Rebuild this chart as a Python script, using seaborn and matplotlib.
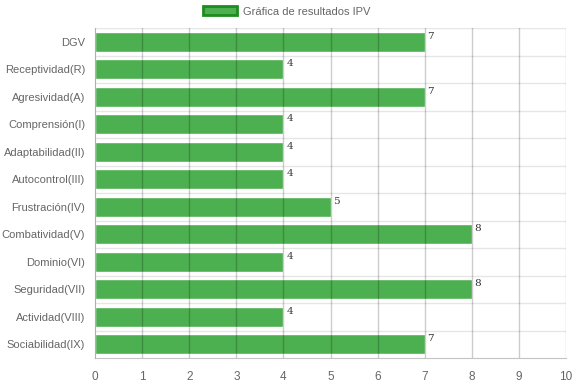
import matplotlib
matplotlib.use("Agg")
import matplotlib.pyplot as plt
import matplotlib.patches as mpatches
import seaborn as sns
import pandas as pd

categories = ["DGV", "Receptividad(R)", "Agresividad(A)", "Comprensión(I)",
              "Adaptabilidad(II)", "Autocontrol(III)", "Frustración(IV)",
              "Combatividad(V)", "Dominio(VI)", "Seguridad(VII)",
              "Actividad(VIII)", "Sociabilidad(IX)"]
values = [7, 4, 7, 4, 4, 4, 5, 8, 4, 8, 4, 7]
series_name = "Gráfica de resultados IPV"
x_ticks = list(range(0, 11))

sns.set_style("white")
plt.rcParams['font.family'] = ['Liberation Sans', 'DejaVu Sans']

df = pd.DataFrame({"cat": categories, "val": values})

fig = plt.figure(figsize=(5.74, 3.83), dpi=100)
ax = fig.add_axes([95/574, 25/383, (566-95)/574, (358-28)/383])

bar_color = "#4CAF50"
sns.barplot(data=df, y="cat", x="val", orient="h", color=bar_color,
            width=0.72, ax=ax, saturation=1, zorder=3)

ax.set_xlim(0, 10)
ax.set_ylim(len(categories) - 0.5, -0.5)
ax.set_xlabel("")
ax.set_ylabel("")

# vertical gridlines (drawn over bars, translucent)
for xv in x_ticks[1:]:
    ax.axvline(xv, color="black", alpha=0.2, lw=1, zorder=4)
# horizontal gridlines at category boundaries
for i in range(len(categories)):
    ax.axhline(i - 0.5, color="#e6e6e6", lw=1, zorder=1)

for s in ["top", "right"]:
    ax.spines[s].set_visible(False)
ax.spines["left"].set_color("#b0b0b0")
ax.spines["bottom"].set_color("#c4c4c4")
ax.spines["left"].set_zorder(5)

ax.set_xticks(x_ticks)
ax.set_xticklabels([str(t) for t in x_ticks])
ax.tick_params(axis="x", length=8, color="#c4c4c4", labelsize=8.5,
               labelcolor="#666666", pad=1)
ax.set_yticks(range(len(categories)), minor=False)
ax.tick_params(axis="y", which="major", length=0, labelsize=8,
               labelcolor="#666666", pad=7)
ax.set_yticks([i + 0.5 for i in range(len(categories))], minor=True)
ax.tick_params(axis="y", which="minor", length=7, color="#e6e6e6")

# value labels
for i, v in enumerate(values):
    ax.text(v + 0.06, i - 0.37, str(v), ha="left", va="top",
            family="DejaVu Serif", fontsize=7.5, color="#333333")

handle = mpatches.Patch(facecolor=bar_color, edgecolor="#1e8c1e", linewidth=2)
fig.legend(handles=[handle], labels=[series_name], loc="upper center",
           bbox_to_anchor=(0.5, 1.01), frameon=False, fontsize=8,
           handlelength=3.0, handleheight=0.9, handletextpad=0.6,
           labelcolor="#666666")

fig.savefig("out.png", dpi=100)
